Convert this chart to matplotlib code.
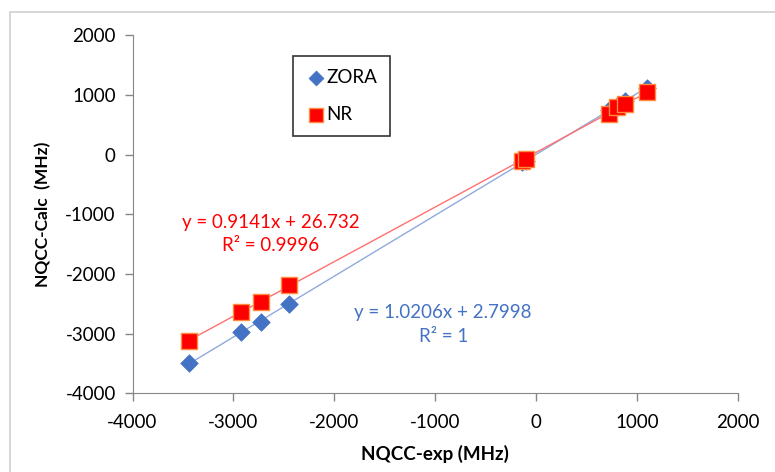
import matplotlib
matplotlib.use("Agg")
import matplotlib.pyplot as plt
from matplotlib.patches import Rectangle
import numpy as np

plt.rcParams['font.family'] = ['Lato', 'DejaVu Sans']
plt.rcParams['axes.unicode_minus'] = False

# experimental NQCC values (MHz)
nqcc_exp = [-3442, -2928, -2731, -2447, -135, -100, 726, 799, 882, 1096]
# calculated values
zora_calc = [-3498, -2978, -2799, -2502, -130, -100, 745, 820, 905, 1120]
nr_calc = [-3117, -2642, -2463, -2189, -112, -78, 687, 798, 854, 1049]

zora_fit = "y = 1.0206x + 2.7998\nR\u00b2 = 1"
nr_fit = "y = 0.9141x + 26.732\nR\u00b2 = 0.9996"

blue = '#4472C4'
red = '#FF0000'

fig = plt.figure(figsize=(7.75, 4.72), dpi=100)
ax = fig.add_axes([0.171, 0.167, 0.781, 0.758])

# outer chart-area frame
fig.add_artist(Rectangle((10/775, -0.2), 1.2, 1.2 - 12/472, transform=fig.transFigure,
                         fill=False, edgecolor='#d0d0d0', linewidth=1.2))

x = np.array(nqcc_exp)
zs = np.polyfit(x, zora_calc, 1)
ns = np.polyfit(x, nr_calc, 1)
xl = np.array([x.min(), x.max()])
ax.plot(xl, np.polyval(zs, xl), color='#8faadc', lw=1, zorder=2)
ax.plot(xl, np.polyval(ns, xl), color='#ff7070', lw=1, zorder=2)

ax.scatter(x, zora_calc, marker='D', s=80, color=blue, edgecolors=blue,
           linewidths=0.5, zorder=3, label='ZORA')
ax.scatter(x, nr_calc, marker='s', s=125, color=red, edgecolors='#ff8c40',
           linewidths=1, zorder=4, label='NR')

ax.set_xlim(-4000, 2000)
ax.set_ylim(-4000, 2000)
ax.set_xticks(range(-4000, 2001, 1000))
ax.set_yticks(range(-4000, 2001, 1000))
for s in ['top', 'right']:
    ax.spines[s].set_visible(False)
for s in ['left', 'bottom']:
    ax.spines[s].set_color('#868686')
ax.tick_params(colors='#868686', labelcolor='black', labelsize=13.5, length=6, width=1)
ax.tick_params(axis='x', pad=9)
ax.tick_params(axis='y', pad=6)

ax.set_xlabel('NQCC-exp (MHz)', fontsize=13.5, fontweight='bold', labelpad=10)
ax.set_ylabel('NQCC-Calc  (MHz)', fontsize=12.5, fontweight='bold', labelpad=10)

ax.text(-2630, -1330, nr_fit, color=red, fontsize=13.5, ha='center', va='center',
        linespacing=1.45)
ax.text(-920, -2850, zora_fit, color=blue, fontsize=13.5, ha='center', va='center',
        linespacing=1.45)

leg = ax.legend(loc='upper left', bbox_to_anchor=(0.25, 0.97), frameon=True,
                fancybox=False, edgecolor='black', fontsize=13.5, handletextpad=0.05,
                labelspacing=1.1, borderpad=0.7, markerscale=0.85, handlelength=1.0)
leg.get_frame().set_linewidth(1.2)

fig.savefig('out.png', dpi=100)
